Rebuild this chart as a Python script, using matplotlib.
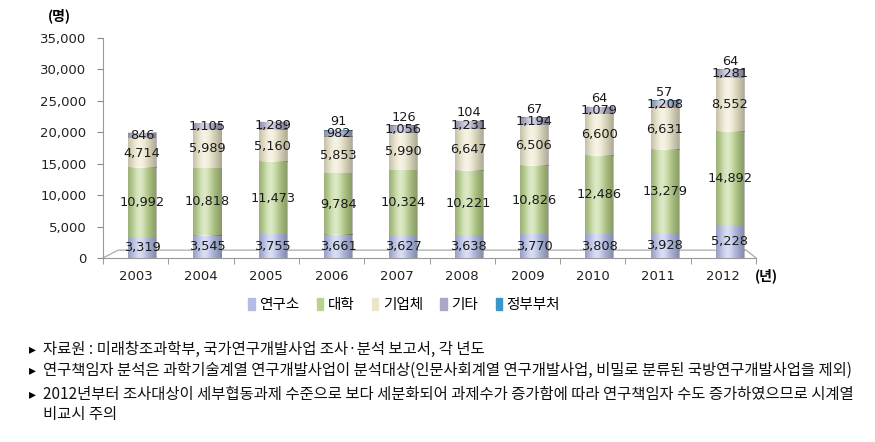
import numpy as np
import matplotlib.pyplot as plt

plt.rcParams['font.family'] = ['Noto Sans CJK KR', 'DejaVu Sans']

# data
years = ['2003', '2004', '2005', '2006', '2007', '2008', '2009', '2010', '2011', '2012']
institute = [3319, 3545, 3755, 3661, 3627, 3638, 3770, 3808, 3928, 5228]
university = [10992, 10818, 11473, 9784, 10324, 10221, 10826, 12486, 13279, 14892]
company = [4714, 5989, 5160, 5853, 5990, 6647, 6506, 6600, 6631, 8552]
other = [846, 1105, 1289, 982, 1056, 1231, 1194, 1079, 1208, 1281]
government = [0, 0, 0, 91, 126, 104, 67, 64, 57, 64]

series_names = ['연구소', '대학', '기업체', '기타', '정부부처']
series = [institute, university, company, other, government]
colors = ['#b3bce6', '#b9d28c', '#ece6c9', '#a9a9c6', '#3b96c7']

notes = [
    '자료원 : 미래창조과학부, 국가연구개발사업 조사·분석 보고서, 각 년도',
    '연구책임자 분석은 과학기술계열 연구개발사업이 분석대상(인문사회계열 연구개발사업, 비밀로 분류된 국방연구개발사업을 제외)',
    '2012년부터 조사대상이 세부협동과제 수준으로 보다 세분화되어 과제수가 증가함에 따라 연구책임자 수도 증가하였으므로 시계열',
    '비교시 주의',
]

fig = plt.figure(figsize=(8.75, 4.42), dpi=100)
ax = fig.add_axes([103/875, 1-258/442, (756-103)/875, 220/442])

x = np.arange(len(years))
xb = x + 0.1
width = 0.43
bottom = np.zeros(len(years))
containers = []
for name, vals, c in zip(series_names, series, colors):
    vals = np.array(vals, dtype=float)
    bc = ax.bar(xb, vals, width, bottom=bottom, color=c, label=name, zorder=3)
    containers.append((bc, vals, bottom.copy()))
    bottom = bottom + vals

# cylinder-like shading on each bar piece
t = np.linspace(0, 1, 60)
hl = np.exp(-((t - 0.4) / 0.22) ** 2)
shade_w = np.zeros((1, 60, 4))
shade_w[..., :3] = 1.0
shade_w[..., 3] = 0.5 * hl
shade_d = np.zeros((1, 60, 4))
shade_d[..., 3] = 0.28 * (np.abs(t - 0.42) / 0.58) ** 1.6
for bc, vals, bot in containers:
    for p in bc.patches:
        if p.get_height() <= 0:
            continue
        ext = [p.get_x(), p.get_x() + p.get_width(), p.get_y(), p.get_y() + p.get_height()]
        ax.imshow(shade_d, extent=ext, aspect='auto', zorder=4, interpolation='bilinear')
        ax.imshow(shade_w, extent=ext, aspect='auto', zorder=4, interpolation='bilinear')

# data labels
for i, (bc, vals, bot) in enumerate(containers):
    for j in range(len(years)):
        if vals[j] <= 0:
            continue
        if i == 4:
            yy = bot[j] + vals[j] + 1300
        else:
            yy = bot[j] + vals[j] / 2
        ax.text(xb[j], yy, f'{int(vals[j]):,}', ha='center', va='center',
                fontsize=9.3, color='#1a1a1a', family='DejaVu Sans', zorder=6)

ax.set_xlim(-0.5, 9.5)
ax.set_ylim(0, 35000)
ax.set_yticks(np.arange(0, 35001, 5000))
ax.set_yticklabels([f'{v:,}' for v in range(0, 35001, 5000)], family='DejaVu Sans')
ax.set_xticks(x)
ax.set_xticklabels(years, family='DejaVu Sans')
ax.set_xticks(np.arange(-0.5, 10, 1), minor=True)
ax.tick_params(axis='x', which='major', length=0, pad=9, labelsize=9.5, labelcolor='#222222')
ax.tick_params(axis='x', which='minor', length=4, color='#888888', direction='out')
ax.tick_params(axis='y', length=4, color='#888888', pad=8, labelsize=9.5, labelcolor='#222222')
for s in ['top', 'right']:
    ax.spines[s].set_visible(False)
for s in ['left', 'bottom']:
    ax.spines[s].set_color('#999999')

# 3d floor outline
ax.plot([-0.5, -0.27, 9.35, 9.5], [0, 1250, 1250, 0], color='#aaaaaa', lw=0.9,
        zorder=2, clip_on=False)

fig.text(59/875, 1-16/442, '(명)', fontsize=10, fontweight='bold', ha='center', va='center')
fig.text(766/875, 1-276/442, '(년)', fontsize=10, fontweight='bold', ha='center', va='center')

handles = [plt.Rectangle((0, 0), 1, 1, color=c) for c in colors]
fig.legend(handles, series_names, loc='center', bbox_to_anchor=(404/875, 1-305/442),
           ncol=5, frameon=False, fontsize=10.5, handlelength=0.45, handleheight=0.8,
           handletextpad=0.3, columnspacing=1.2)

line_y = [349, 370, 394, 415]
for k, (yy, s) in enumerate(zip(line_y, notes)):
    if k < 3:
        fig.text(32/875, 1-yy/442, '▸', fontsize=10, ha='center', va='center',
                 family=['DejaVu Sans'])
    fig.text(43/875, 1-yy/442, s, fontsize=11.1, ha='left', va='center', color='#111111')

fig.savefig('out.png', dpi=100)
